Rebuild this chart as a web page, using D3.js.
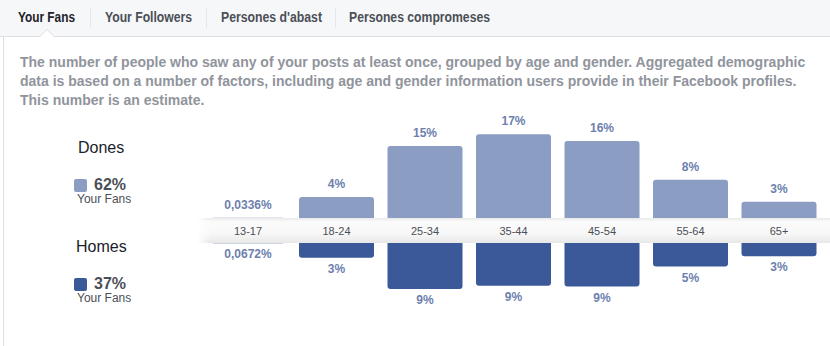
<!DOCTYPE html>
<html><head><meta charset="utf-8">
<script src="https://cdn.jsdelivr.net/npm/d3@7"></script>
<style>html,body{margin:0;padding:0;background:#fff;}svg{display:block;font-family:"Liberation Sans",Arial,Helvetica,sans-serif;}</style>
</head><body><svg id="c" width="830" height="346"></svg>
<script>
const tabs = ["Your Fans", "Your Followers", "Persones d'abast", "Persones compromeses"];
const descLines = [
  "The number of people who saw any of your posts at least once, grouped by age and gender. Aggregated demographic",
  "data is based on a number of factors, including age and gender information users provide in their Facebook profiles.",
  "This number is an estimate."
];
const ageGroups = ["13-17", "18-24", "25-34", "35-44", "45-54", "55-64", "65+"];
const women = [0.0336, 4.3, 14.7, 17.1, 15.7, 7.8, 3.3];
const men = [0.0672, 3.0, 9.4, 8.7, 8.9, 4.8, 2.7];
const legendItems = [
  {name: "Dones", share: "62%", sub: "Your Fans"},
  {name: "Homes", share: "37%", sub: "Your Fans"}
];

const W = 830, H = 346;
const svg = d3.select("#c");
const colW = "#8b9dc3", colM = "#3b5998", labCol = "#6d7fae";

// tab bar
svg.append("rect").attr("x",0).attr("y",0).attr("width",W).attr("height",36).attr("fill","#f6f7f9");
svg.append("line").attr("x1",0).attr("x2",W).attr("y1",36.5).attr("y2",36.5).attr("stroke","#dddfe2");
svg.append("line").attr("x1",3.5).attr("x2",3.5).attr("y1",36).attr("y2",H).attr("stroke","#dddfe2");
const tabX = [18, 105, 221, 349];
const tabLen = [57, 87, 101, 141];
const sepX = [90, 206, 335];
tabs.forEach((t,i)=>{
  svg.append("text").attr("x",tabX[i]).attr("y",22).attr("font-size",14).attr("font-weight","bold")
    .attr("textLength", tabLen[i]).attr("lengthAdjust","spacingAndGlyphs")
    .attr("fill", i===0?"#1d2129":"#4b4f56").text(t);
});
sepX.forEach(x=>svg.append("line").attr("x1",x+0.5).attr("x2",x+0.5).attr("y1",8).attr("y2",28).attr("stroke","#e5e6e9"));
svg.append("path").attr("d","M40,37 L47,30 L54,37 Z").attr("fill","#fff");
svg.append("path").attr("d","M40,36.5 L47,29.5 L54,36.5").attr("fill","none").attr("stroke","#dddfe2");

// description
descLines.forEach((l,i)=>{
  svg.append("text").attr("x",20).attr("y",67+i*19).attr("font-size",14).attr("font-weight","bold")
    .attr("fill","#90949c").text(l);
});

// legend
const legY = [0, 99];
legendItems.forEach((d,i)=>{
  const g = svg.append("g").attr("transform",`translate(0,${legY[i]})`);
  g.append("text").attr("x", i===0?78:76).attr("y",153).attr("font-size",16).attr("fill","#1d2129").text(d.name);
  g.append("rect").attr("x",74).attr("y",179).attr("width",13).attr("height",13).attr("rx",2)
    .attr("fill", i===0?colW:colM);
  g.append("text").attr("x",94).attr("y",189.5).attr("font-size",16).attr("font-weight","bold").attr("fill","#4b4f56").text(d.share);
  g.append("text").attr("x",77).attr("y",203).attr("font-size",12).attr("fill","#4b4f56").text(d.sub);
});

// chart
const x = d3.scaleBand().domain(ageGroups).range([203.75, 823.25]).paddingInner(0.1525).paddingOuter(0.0763);
const y = d3.scaleLinear().domain([0, 20]).range([0, 98]);
const bandTop = 218, bandBot = 243;

function roundedTop(x0, w, y0, h, r){
  r = Math.min(r, h);
  return `M${x0},${y0+h} V${y0+r} Q${x0},${y0} ${x0+r},${y0} H${x0+w-r} Q${x0+w},${y0} ${x0+w},${y0+r} V${y0+h} Z`;
}
function roundedBot(x0, w, y0, h, r){
  r = Math.min(r, h);
  return `M${x0},${y0} V${y0+h-r} Q${x0},${y0+h} ${x0+r},${y0+h} H${x0+w-r} Q${x0+w},${y0+h} ${x0+w},${y0+h-r} V${y0} Z`;
}
const fmt = v => v < 1 ? String(v).replace(".", ",") + "%" : Math.round(v) + "%";

const gW = svg.append("g");
ageGroups.forEach((a,i)=>{
  const h = y(women[i]);
  gW.append("path").attr("d", roundedTop(x(a), x.bandwidth(), bandTop - h, h + 6, 3)).attr("fill", colW);
  gW.append("text").attr("x", x(a)+x.bandwidth()/2).attr("y", bandTop - h - 9).attr("text-anchor","middle")
    .attr("font-size",12).attr("font-weight","bold").attr("fill",labCol).text(fmt(women[i]));
  const hm = y(men[i]);
  gW.append("path").attr("d", roundedBot(x(a), x.bandwidth(), bandBot - 6, hm + 6, 3)).attr("fill", colM);
  gW.append("text").attr("x", x(a)+x.bandwidth()/2).attr("y", bandBot + hm + 15).attr("text-anchor","middle")
    .attr("font-size",12).attr("font-weight","bold").attr("fill",labCol).text(fmt(men[i]));
});

// axis band
const defs = svg.append("defs");
const gr = defs.append("linearGradient").attr("id","bandg").attr("x1",0).attr("x2",0).attr("y1",0).attr("y2",1);
gr.append("stop").attr("offset","0%").attr("stop-color","#e9e9e9");
gr.append("stop").attr("offset","15%").attr("stop-color","#fbfbfb");
gr.append("stop").attr("offset","60%").attr("stop-color","#f8f8f8");
gr.append("stop").attr("offset","100%").attr("stop-color","#e8e8e8");
const gh = defs.append("linearGradient").attr("id","bandh").attr("x1",0).attr("x2",1).attr("y1",0).attr("y2",0);
gh.append("stop").attr("offset","0%").attr("stop-color","#fff").attr("stop-opacity",1);
gh.append("stop").attr("offset","100%").attr("stop-color","#fff").attr("stop-opacity",0);
svg.append("rect").attr("x",197).attr("y",bandTop).attr("width",W-197).attr("height",bandBot-bandTop).attr("fill","url(#bandg)");
svg.append("rect").attr("x",197).attr("y",bandTop).attr("width",14).attr("height",bandBot-bandTop).attr("fill","url(#bandh)");

const axis = d3.axisBottom(x).tickSize(0).tickPadding(0);
const ag = svg.append("g").attr("transform",`translate(0,${bandTop+9})`).call(axis);
ag.select(".domain").remove();
ag.selectAll("text").attr("font-size",11).attr("fill","#4b4f56").attr("font-family","Liberation Sans, Arial, sans-serif");
</script></body></html>
